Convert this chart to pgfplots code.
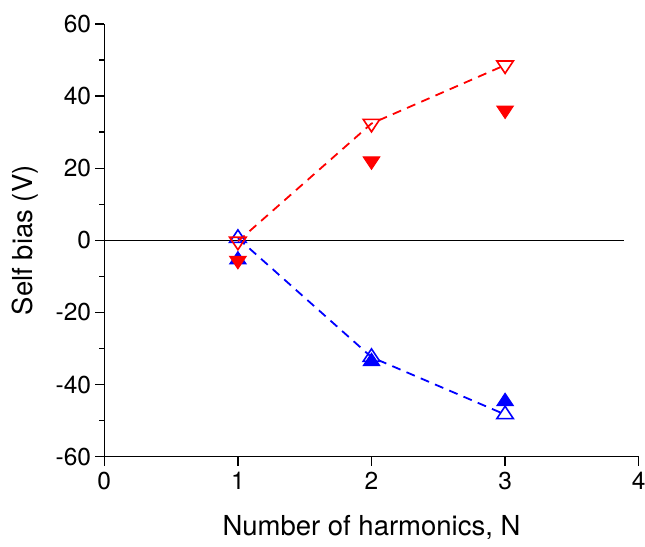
\documentclass[border=0pt]{standalone}
\usepackage{fontspec}
\setmainfont{TeX Gyre Heros}
\usepackage{pgfplots}
\pgfplotsset{compat=1.18}
\definecolor{pred}{RGB}{255,0,0}
\definecolor{pblue}{RGB}{0,0,255}
\begin{document}
\begin{tikzpicture}
\begin{axis}[
  scale only axis,
  width=534.4pt, height=432.7pt,
  xmin=0, xmax=4, ymin=-60, ymax=60,
  axis x line*=bottom, axis y line*=left,
  axis line style={line width=1.4pt, -},
  xtick={0,1,2,3,4},
  ytick={-60,-40,-20,0,20,40,60},
  minor y tick num=1,
  tick align=outside,
  major tick length=9pt, minor tick length=5pt,
  every tick/.style={black, line width=1.4pt},
  /pgf/number format/assume math mode=true,
  ticklabel style={font=\fontsize{24.5}{28}\selectfont},
  yticklabel style={inner sep=2pt, xshift=-2pt},
  xticklabel style={inner sep=2pt, yshift=-4pt},
  label style={font=\fontsize{27.5}{32}\selectfont},
  xlabel={Number of harmonics, N},
  ylabel={Self bias (V)},
  xlabel style={at={(axis description cs:0.5,-0.164)}, anchor=center},
  ylabel style={at={(axis description cs:-0.148,0.5)}, anchor=center, rotate=0},
  clip=false,
]
% zero line
\addplot[black, line width=0.9pt, forget plot] coordinates {(0,0) (3.89,0)};
% blue filled
\addplot[only marks, pblue, mark=triangle*, mark size=8.3pt,
  mark options={xscale=1.15, fill=pblue, line width=1pt}]
  coordinates {(1,-5.4) (2,-33.6) (3,-44.7)};
% red filled
\addplot[only marks, pred, mark=triangle*, mark size=8.3pt,
  mark options={rotate=180, xscale=1.15, fill=pred, line width=1pt}]
  coordinates {(1,-5.6) (2,22.0) (3,36.1)};
% blue open with dashed line
\addplot[pblue, line width=1.8pt, dash pattern=on 9pt off 6.5pt,
  mark=triangle, mark size=8.3pt,
  mark options={solid, xscale=1.15, fill=white, line width=1.6pt}]
  coordinates {(1,0.6) (2,-32.4) (3,-48.3)};
% red open with dashed line
\addplot[pred, line width=1.8pt, dash pattern=on 9pt off 6.5pt,
  mark=triangle, mark size=8.3pt,
  mark options={solid, rotate=180, xscale=1.15, fill=white, line width=1.6pt}]
  coordinates {(1,-0.3) (2,32.4) (3,48.6)};
\end{axis}
\pgfresetboundingbox
\path (-104.3pt,-89.3pt) rectangle (540.7pt,456.7pt);
\end{tikzpicture}
\end{document}
